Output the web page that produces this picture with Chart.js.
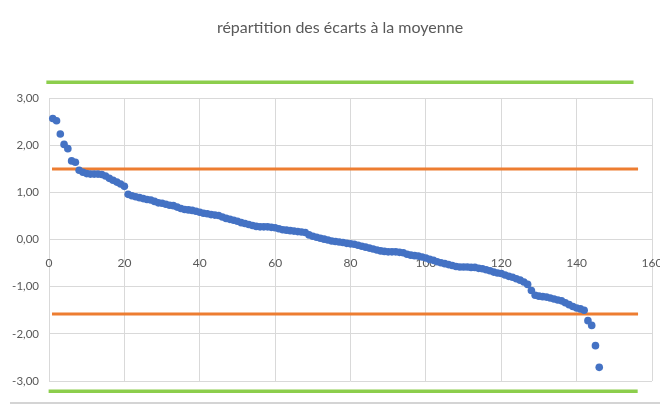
<!DOCTYPE html>
<html>
<head>
<meta charset="utf-8">
<script src="https://cdn.jsdelivr.net/npm/chart.js@4"></script>
<style>
  html,body{margin:0;padding:0;background:#fff;}
  #wrap{position:relative;width:660px;height:405px;}
  #bar{position:absolute;left:10px;right:0;bottom:1px;height:2px;background:#d4d4d4;}
</style>
</head>
<body>
<div id="wrap"><canvas id="c" width="660" height="405"></canvas><div id="bar"></div></div>
<script>
const title = "répartition des écarts à la moyenne";
const ecarts = [
  2.57, 2.52, 2.24, 2.02, 1.93, 1.67, 1.64, 1.47, 1.43, 1.40,
  1.39, 1.39, 1.39, 1.38, 1.35, 1.30, 1.26, 1.22, 1.18, 1.13,
  0.96, 0.93, 0.91, 0.89, 0.87, 0.85, 0.84, 0.81, 0.78, 0.77,
  0.75, 0.73, 0.72, 0.69, 0.66, 0.64, 0.63, 0.62, 0.60, 0.58,
  0.56, 0.55, 0.53, 0.52, 0.51, 0.48, 0.45, 0.43, 0.41, 0.39,
  0.36, 0.34, 0.32, 0.30, 0.28, 0.27, 0.27, 0.27, 0.26, 0.25,
  0.23, 0.21, 0.20, 0.19, 0.18, 0.17, 0.16, 0.15, 0.10, 0.07,
  0.05, 0.03, 0.01, -0.01, -0.03, -0.04, -0.05, -0.06, -0.08, -0.09,
  -0.10, -0.12, -0.14, -0.16, -0.18, -0.20, -0.22, -0.24, -0.25, -0.26,
  -0.26, -0.26, -0.27, -0.28, -0.31, -0.33, -0.34, -0.35, -0.37, -0.39,
  -0.42, -0.44, -0.47, -0.49, -0.51, -0.53, -0.55, -0.57, -0.58, -0.58,
  -0.58, -0.59, -0.59, -0.61, -0.62, -0.64, -0.66, -0.69, -0.71, -0.72,
  -0.75, -0.78, -0.80, -0.83, -0.86, -0.90, -0.95, -1.08, -1.18, -1.20,
  -1.21, -1.22, -1.24, -1.26, -1.28, -1.30, -1.34, -1.38, -1.42, -1.45,
  -1.47, -1.50, -1.72, -1.82, -2.25, -2.71
];
const rangs = ecarts.map((_, i) => i + 1);
const seuilHaut = 1.50, seuilBas = -1.58;
const seuilX = [0.8, 156.3];
const limiteHaut = 3.34, limiteBas = -3.22;
const limiteHautX = [-0.7, 155.1];
const limiteBasX = [-0.1, 156.2];
const xTicks = [0, 20, 40, 60, 80, 100, 120, 140, 160];
const yTicks = [-3, -2, -1, 0, 1, 2, 3];

const points = rangs.map((x, i) => ({x: x, y: ecarts[i]}));
const hLine = (xs, y) => xs.map(x => ({x: x, y: y}));
const grey = '#595959';
const font = "Lato, 'Open Sans', sans-serif";

new Chart(document.getElementById('c'), {
  type: 'scatter',
  data: {
    datasets: [
      { type: 'line', data: hLine(limiteHautX, limiteHaut), borderColor: '#8cce4c', borderWidth: 3.5, pointRadius: 0, clip: false, order: 3 },
      { type: 'line', data: hLine(limiteBasX, limiteBas), borderColor: '#8cce4c', borderWidth: 3.5, pointRadius: 0, clip: false, order: 3 },
      { type: 'line', data: hLine(seuilX, seuilHaut), borderColor: '#ed7d31', borderWidth: 3, pointRadius: 0, clip: false, order: 2 },
      { type: 'line', data: hLine(seuilX, seuilBas), borderColor: '#ed7d31', borderWidth: 3, pointRadius: 0, clip: false, order: 2 },
      { data: points, backgroundColor: '#4472c4', borderColor: '#4472c4', pointRadius: 3.8, borderWidth: 0, clip: false, order: 1 }
    ]
  },
  options: {
    responsive: false,
    animation: false,
    layout: { padding: { left: 0, right: -20, top: 0, bottom: 24 } },
    plugins: {
      legend: { display: false },
      tooltip: { enabled: false },
      title: {
        display: true, text: title, color: grey,
        font: { family: font, size: 16, weight: 'normal', lineHeight: 1.2 },
        padding: { top: 18, bottom: 61 }
      }
    },
    scales: {
      x: {
        type: 'linear', min: 0, max: 160,
        position: { y: 0 },
        afterBuildTicks: s => { s.ticks = xTicks.map(v => ({value: v})); },
        afterFit: s => { s.paddingLeft = 0; s.paddingRight = 8; },
        ticks: { color: grey, font: { family: font, size: 12 }, padding: 16, maxRotation: 0 },
        grid: { color: '#d9d9d9', lineWidth: 1, drawTicks: false },
        border: { display: false }
      },
      y: {
        type: 'linear', min: -3, max: 3,
        afterBuildTicks: s => { s.ticks = yTicks.map(v => ({value: v})); },
        afterFit: s => { s.width = 49; },
        ticks: { color: grey, font: { family: font, size: 11.5 }, padding: 10,
          callback: v => v.toFixed(2).replace('.', ',') },
        grid: { color: '#d9d9d9', lineWidth: 1, drawTicks: false },
        border: { display: false }
      }
    }
  }
});
</script>
</body>
</html>
